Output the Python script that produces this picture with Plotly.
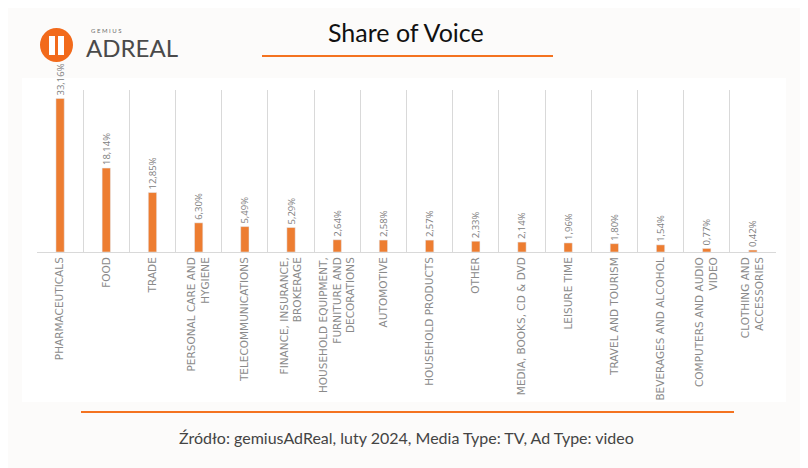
import plotly.graph_objects as go

# data
categories = [
    "PHARMACEUTICALS", "FOOD", "TRADE", "PERSONAL CARE AND HYGIENE",
    "TELECOMMUNICATIONS", "FINANCE, INSURANCE, BROKERAGE",
    "HOUSEHOLD EQUIPMENT, FURNITURE AND DECORATIONS", "AUTOMOTIVE",
    "HOUSEHOLD PRODUCTS", "OTHER", "MEDIA, BOOKS, CD & DVD", "LEISURE TIME",
    "TRAVEL AND TOURISM", "BEVERAGES AND ALCOHOL", "COMPUTERS AND AUDIO VIDEO",
    "CLOTHING AND ACCESSORIES",
]
tick_labels = [
    "PHARMACEUTICALS", "FOOD", "TRADE", "PERSONAL CARE AND<br>HYGIENE",
    "TELECOMMUNICATIONS", "FINANCE, INSURANCE,<br>BROKERAGE",
    "HOUSEHOLD EQUIPMENT,<br>FURNITURE AND<br>DECORATIONS", "AUTOMOTIVE",
    "HOUSEHOLD PRODUCTS", "OTHER", "MEDIA, BOOKS, CD & DVD", "LEISURE TIME",
    "TRAVEL AND TOURISM", "BEVERAGES AND ALCOHOL", "COMPUTERS AND AUDIO<br>VIDEO",
    "CLOTHING AND<br>ACCESSORIES",
]
share = [33.16, 18.14, 12.85, 6.30, 5.49, 5.29, 2.64, 2.58,
         2.57, 2.33, 2.14, 1.96, 1.80, 1.54, 0.77, 0.42]

title = "Share of Voice"
source = "Źródło: gemiusAdReal, luty 2024, Media Type: TV, Ad Type: video"

ORANGE = "#ed7d31"
LINE_ORANGE = "#f47320"

# the page body has an 8px margin, so work in page pixels and shift
OFF = 8
W, H = 808 - OFF, 468 - OFF
L, R, T, B = 37, 776, 90, 252  # plot area in page pixels


def px(x):
    return (x - L) / (R - L)


def py(y):
    return (B - y) / (B - T)


labels = [f"{v:.2f}%".replace(".", ",") for v in share]

fig = go.Figure(go.Bar(
    x=categories, y=share,
    marker_color=ORANGE,
    width=0.18,
    text=labels, textposition="outside", textangle=-90,
    textfont=dict(family="Open Sans", size=9.5, color="#808080"),
    constraintext="none", cliponaxis=False,
))

fig.update_layout(
    width=W, height=H,
    margin=dict(l=L - OFF, r=808 - R, t=T - OFF, b=468 - B),
    paper_bgcolor="#fcfbfa", plot_bgcolor="white",
    showlegend=False,
    xaxis=dict(
        tickmode="array", tickvals=categories, ticktext=tick_labels,
        tickangle=-90, tickson="boundaries", ticks="", showgrid=True,
        gridcolor="#d9d9d9", gridwidth=1, showline=True, linecolor="#d9d9d9",
        tickfont=dict(family="DejaVu Sans", size=10.5, color="#8a8a8a"),
    ),
    yaxis=dict(range=[0, 35], visible=False, showgrid=False),
)

shapes = [
    # white chart card
    dict(type="rect", xref="paper", yref="paper", layer="below",
         x0=px(22), x1=px(786), y0=py(402), y1=py(78),
         fillcolor="white", line_width=0),
    # title underline
    dict(type="line", xref="paper", yref="paper",
         x0=px(262), x1=px(553), y0=py(56), y1=py(56),
         line=dict(color=LINE_ORANGE, width=2)),
    # footer line
    dict(type="line", xref="paper", yref="paper",
         x0=px(81), x1=px(734), y0=py(412), y1=py(412),
         line=dict(color=LINE_ORANGE, width=2)),
    # logo circle
    dict(type="circle", xref="paper", yref="paper",
         x0=px(40), x1=px(73), y0=py(62), y1=py(28),
         fillcolor="#f26a1b", line_width=0),
    # binocular tubes
    dict(type="rect", xref="paper", yref="paper",
         x0=px(49), x1=px(55), y0=py(55), y1=py(36),
         fillcolor="white", line_width=0),
    dict(type="rect", xref="paper", yref="paper",
         x0=px(58), x1=px(64), y0=py(55), y1=py(36),
         fillcolor="white", line_width=0),
]

annotations = [
    dict(text=title, x=px(406), y=py(32), xref="paper", yref="paper",
         showarrow=False, xanchor="center", yanchor="middle",
         font=dict(family="Lato", size=25, color="#111111")),
    dict(text=source, x=px(406), y=py(438), xref="paper", yref="paper",
         showarrow=False, xanchor="center", yanchor="middle",
         font=dict(family="Lato", size=16, color="#444444")),
    dict(text="G E M I U S", x=px(106), y=py(31), xref="paper", yref="paper",
         showarrow=False, xanchor="center", yanchor="middle",
         font=dict(family="Lato", size=6, color="#6b6b6b")),
    dict(text="ADREAL", x=px(84), y=py(48), xref="paper", yref="paper",
         showarrow=False, xanchor="left", yanchor="middle",
         font=dict(family="Lato", size=24, color="#4a4a4a")),
]

fig.update_layout(shapes=shapes, annotations=annotations)

fig.write_html("out.html")
